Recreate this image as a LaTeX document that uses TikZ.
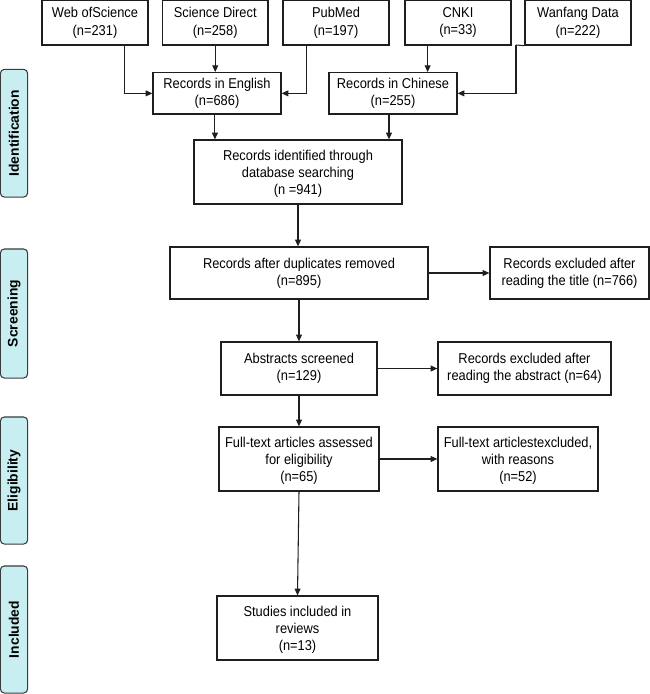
\documentclass[tikz,border=0pt]{standalone}
\usepackage{fontspec}
\setmainfont{Liberation Sans}[FakeStretch=0.9]
\newfontfamily\labfont{Liberation Sans}
\usetikzlibrary{arrows.meta,calc}
\definecolor{labfill}{RGB}{200,238,241}
\definecolor{labdraw}{RGB}{55,60,60}
\definecolor{boxdraw}{RGB}{30,30,30}
\newcommand{\topgap}{\rule{0pt}{10.6pt}}
\begin{document}
\begin{tikzpicture}[x=0.75pt,y=-0.75pt,
  box/.style={draw=boxdraw,line width=0.95pt,inner sep=0pt,align=center,
    font=\fontsize{10.7pt}{13pt}\selectfont},
  lab/.style={draw=labdraw,fill=labfill,line width=0.8pt,rounded corners=3pt,
    rotate=90,minimum height=20.4pt,inner sep=0pt,
    font=\labfont\fontsize{10.4pt}{12pt}\selectfont\bfseries},
  conn/.style={draw=boxdraw,line width=0.8pt,-{Triangle[length=5pt,width=4.4pt]}},
  plain/.style={draw=boxdraw,line width=0.8pt}]
\useasboundingbox (0,0) rectangle (650,694);
% side labels
\node[lab,minimum width=95.8pt] (lid) at (14,133.2) {Identification};
\node[lab,minimum width=96.8pt] (lsc) at (14,313.5) {Screening};
\node[lab,minimum width=95.3pt] (lel) at (14,480.5) {Eligibility};
\node[lab,minimum width=95.3pt] (lin) at (14,629.5) {Included};
% top row
\node[box,minimum width=79.5pt,minimum height=33.3pt] (wos) at (95,22.8) {Web ofScience\\(n=231)};
\node[box,minimum width=79.1pt,minimum height=33.3pt] (sd) at (215.25,22.8) {Science Direct\\(n=258)};
\node[box,minimum width=79.5pt,minimum height=33.3pt] (pm) at (336,22.8) {PubMed\\(n=197)};
\node[box,minimum width=79.5pt,minimum height=33.3pt] (cnki) at (458,22.8) {CNKI\\(n=33)};
\node[box,minimum width=79.5pt,minimum height=33.3pt] (wf) at (578,22.8) {Wanfang Data\\(n=222)};
% second row
\node[box,minimum width=96pt,minimum height=31pt] (eng) at (217,93.35) {Records in English\\(n=686)};
\node[box,minimum width=96pt,minimum height=31pt] (chi) at (393,93.35) {Records in Chinese\\(n=255)};
% main flow
\node[box,minimum width=156pt,minimum height=48pt] (ident) at (298,172) {\topgap Records identified through\\database searching\\(n =941)};
\node[box,minimum width=193.5pt,minimum height=39pt] (dup) at (299,273) {Records after duplicates removed\\(n=895)};
\node[box,minimum width=119.25pt,minimum height=39pt] (extitle) at (569.5,273) {Records excluded after\\reading the title (n=766)};
\node[box,minimum width=117pt,minimum height=39.75pt] (abs) at (299,368.5) {Abstracts screened\\(n=129)};
\node[box,minimum width=129.75pt,minimum height=39.75pt] (exabs) at (524.5,368.5) {Records excluded after\\reading the abstract (n=64)};
\node[box,minimum width=120pt,minimum height=48pt] (full) at (299,459) {\topgap Full-text articles assessed\\for eligibility\\(n=65)};
\node[box,minimum width=120pt,minimum height=48pt] (exfull) at (518,459) {\topgap Full-text articlestexcluded,\\with reasons\\(n=52)};
\node[box,minimum width=120.75pt,minimum height=48pt] (stud) at (297.5,628) {\topgap Studies included in\\reviews\\(n=13)};
% connectors, top
\coordinate (wosout) at ($(wos.south west)!0.774!(wos.south east)$);
\coordinate (pmout) at ($(pm.south west)!0.226!(pm.south east)$);
\coordinate (cnkiout) at ($(cnki.south west)!0.217!(cnki.south east)$);
\coordinate (wfbend) at (516,45);
\draw[conn] (wosout) |- (eng.west);
\draw[conn] (sd.south) -- (sd.south |- eng.north);
\draw[conn] (pmout) |- (eng.east);
\draw[conn] (cnkiout) -- (cnkiout |- chi.north);
\draw[plain] (wf.south west) -- (wfbend);
\draw[conn] (wfbend) |- (chi.east);
\coordinate (engout) at ($(eng.south west)!0.484!(eng.south east)$);
\coordinate (chiout) at ($(chi.south west)!0.469!(chi.south east)$);
\draw[conn] (engout) -- (engout |- ident.north);
\draw[conn] (chiout) -- (chiout |- ident.north);
% main flow connectors
\draw[conn] (ident.south) -- (ident.south |- dup.north);
\draw[conn] (dup.east) -- (extitle.west);
\draw[conn] (dup.south) -- (dup.south |- abs.north);
\draw[conn] (abs.east) -- (exabs.west);
\draw[conn] (abs.south) -- (abs.south |- full.north);
\draw[conn] (full.east) -- (exfull.west);
\draw[conn] (full.south) -- (stud.north);
\end{tikzpicture}
\end{document}
